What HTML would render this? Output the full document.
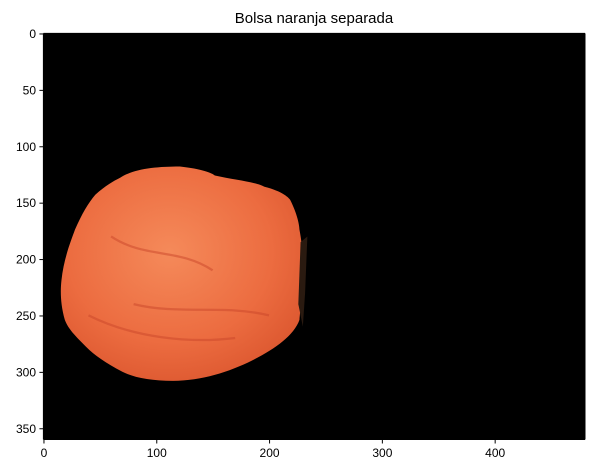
<!DOCTYPE html>
<html><head><meta charset="utf-8"><style>
body{margin:0;background:#fff;width:594px;height:470px;overflow:hidden;font-family:"Liberation Sans",sans-serif}
</style></head><body>
<svg width="594" height="470" font-family="Liberation Sans, sans-serif">
<text x="314" y="23" font-size="15" text-anchor="middle" fill="#000">Bolsa naranja separada</text>
<g transform="translate(43.4,33.4) scale(1.128)">
<defs>
<radialGradient id="g" cx="0.45" cy="0.4" r="0.7">
<stop offset="0" stop-color="#f58a5a"/><stop offset="0.6" stop-color="#ec6c40"/><stop offset="1" stop-color="#d9532c"/>
</radialGradient>
</defs>
<rect x="0" y="0" width="480" height="360" fill="#000"/>
<path fill="url(#g)" d="M68,128 C80,120 100,118 121,118 C140,120 150,124 152,126 C170,130 190,132 196,136 C212,140 218,146 219,148 C225,160 227,170 227,174 C230,190 230,200 230,210 C229,230 228,245 227,254 C222,268 205,280 185,290 C165,300 140,308 115,308 C95,308 80,305 70,300 C55,292 45,285 38,278 C28,268 22,262 19,254 C15,240 15,228 16,219 C18,200 24,185 28,174 C34,160 40,150 46,143 C55,135 62,131 68,128 Z"/>
<path d="M60,180 C90,200 120,190 150,210 M80,240 C120,250 160,240 200,250 M40,250 C80,270 130,275 170,270" stroke="#c9452a" stroke-width="2" fill="none" opacity="0.5"/>
<path d="M228,185 L234,180 L232,230 L230,260 L226,240 Z" fill="#2a1a10"/>
</g>
<g font-size="12" fill="#000">
<line x1="43.4" y1="439.5" x2="585" y2="439.5" stroke="#000"/>
<line x1="43.4" y1="33.4" x2="43.4" y2="439.5" stroke="#000"/>
<line x1="585" y1="33.4" x2="585" y2="439.5" stroke="#000"/>
<line x1="43.4" y1="33.4" x2="585" y2="33.4" stroke="#000"/>
<g id="xt"></g><g id="yt"></g>
</g>
</svg>
<script>
const xTicks=[0,100,200,300,400];
const yTicks=[0,50,100,150,200,250,300,350];
const ns="http://www.w3.org/2000/svg";
const sx=v=>43.4+(v+0.5)*1.128, sy=v=>33.4+(v+0.5)*1.128;
const xt=document.getElementById('xt'), yt=document.getElementById('yt');
xTicks.forEach(v=>{
 const l=document.createElementNS(ns,'line');l.setAttribute('x1',sx(v));l.setAttribute('x2',sx(v));l.setAttribute('y1',439.5);l.setAttribute('y2',443.5);l.setAttribute('stroke','#000');
 
 
 xt.appendChild(l);
 const t=document.createElementNS(ns,'text');t.setAttribute('x',sx(v));t.setAttribute('y',457);t.setAttribute('text-anchor','middle');t.textContent=v;
 
 
 xt.appendChild(t);
});
yTicks.forEach(v=>{
 const l=document.createElementNS(ns,'line');l.setAttribute('x1',39.4);l.setAttribute('x2',43.4);l.setAttribute('y1',sy(v));l.setAttribute('y2',sy(v));l.setAttribute('stroke','#000');
 
 
 yt.appendChild(l);
 const t=document.createElementNS(ns,'text');t.setAttribute('x',36);t.setAttribute('y',sy(v)+4);t.setAttribute('text-anchor','end');t.textContent=v;
 
 
 yt.appendChild(t);
});
</script>
</body></html>
